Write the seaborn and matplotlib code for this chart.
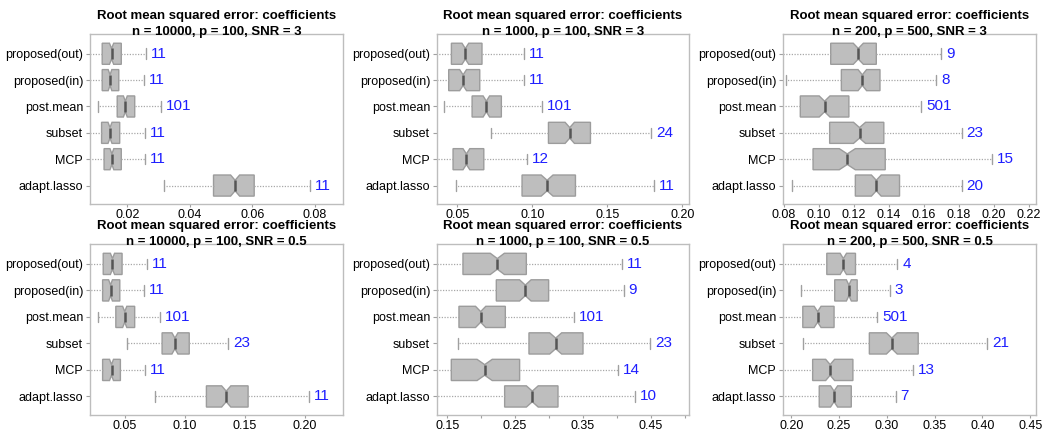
import numpy as np
import pandas as pd
import matplotlib
matplotlib.use("Agg")
import matplotlib.pyplot as plt
import seaborn as sns

# ---------------- data (five-number summaries) ----------------
methods = ["proposed(out)", "proposed(in)", "post.mean", "subset", "MCP", "adapt.lasso"]

# [whisker low, Q1, median, Q3, whisker high] per method
p1_stats = [[0.0070, 0.0120, 0.0150, 0.0181, 0.0259],
            [0.0070, 0.0120, 0.0145, 0.0173, 0.0255],
            [0.0107, 0.0168, 0.0194, 0.0224, 0.0308],
            [0.0070, 0.0118, 0.0145, 0.0176, 0.0256],
            [0.0070, 0.0126, 0.0151, 0.0181, 0.0256],
            [0.0317, 0.0476, 0.0545, 0.0606, 0.0784]]
p1_counts = [11, 11, 101, 11, 11, 11]

p2_stats = [[0.0300, 0.0460, 0.0553, 0.0664, 0.0944],
            [0.0300, 0.0442, 0.0538, 0.0649, 0.0944],
            [0.0411, 0.0598, 0.0693, 0.0793, 0.1064],
            [0.0722, 0.1107, 0.1249, 0.1387, 0.1793],
            [0.0300, 0.0471, 0.0560, 0.0676, 0.0964],
            [0.0489, 0.0931, 0.1098, 0.1287, 0.1809]]
p2_counts = [11, 11, 101, 24, 12, 11]

p3_stats = [[0.0750, 0.1067, 0.1225, 0.1328, 0.1699],
            [0.0810, 0.1128, 0.1248, 0.1349, 0.1670],
            [0.0750, 0.0893, 0.1032, 0.1171, 0.1585],
            [0.0750, 0.1061, 0.1232, 0.1371, 0.1817],
            [0.0750, 0.0966, 0.1162, 0.1379, 0.1990],
            [0.0848, 0.1208, 0.1328, 0.1461, 0.1817]]
p3_counts = [9, 8, 501, 23, 15, 20]

p4_stats = [[0.0180, 0.0321, 0.0398, 0.0478, 0.0684],
            [0.0180, 0.0316, 0.0382, 0.0459, 0.0660],
            [0.0280, 0.0426, 0.0500, 0.0583, 0.0797],
            [0.0522, 0.0811, 0.0918, 0.1037, 0.1362],
            [0.0180, 0.0316, 0.0390, 0.0464, 0.0665],
            [0.0748, 0.1180, 0.1345, 0.1527, 0.2036]]
p4_counts = [11, 11, 101, 23, 11, 11]

p5_stats = [[0.1200, 0.1731, 0.2238, 0.2666, 0.4077],
            [0.1200, 0.2223, 0.2651, 0.2995, 0.4102],
            [0.1200, 0.1672, 0.1992, 0.2356, 0.3369],
            [0.1657, 0.2705, 0.3099, 0.3502, 0.4496],
            [0.1200, 0.1559, 0.2051, 0.2567, 0.4018],
            [0.1200, 0.2346, 0.2754, 0.3133, 0.4264]]
p5_counts = [11, 9, 101, 23, 14, 10]

p6_stats = [[0.1850, 0.2372, 0.2545, 0.2672, 0.3110],
            [0.2103, 0.2455, 0.2603, 0.2690, 0.3034],
            [0.1850, 0.2121, 0.2276, 0.2448, 0.2897],
            [0.2121, 0.2817, 0.3052, 0.3328, 0.4052],
            [0.1850, 0.2224, 0.2407, 0.2645, 0.3276],
            [0.1850, 0.2293, 0.2448, 0.2628, 0.3093]]
p6_counts = [4, 3, 501, 21, 13, 7]

subtitles = ["n = 10000, p = 100, SNR = 3", "n = 1000, p = 100, SNR = 3",
             "n = 200, p = 500, SNR = 3", "n = 10000, p = 100, SNR = 0.5",
             "n = 1000, p = 100, SNR = 0.5", "n = 200, p = 500, SNR = 0.5"]
main_title = "Root mean squared error: coefficients"

xlims = [(0.0081, 0.0890), (0.0364, 0.2044), (0.0794, 0.2242),
         (0.0211, 0.2317), (0.1348, 0.5066), (0.1914, 0.4560)]
xticks = [[0.02, 0.04, 0.06, 0.08],
          [0.05, 0.10, 0.15, 0.20],
          [0.08, 0.10, 0.12, 0.14, 0.16, 0.18, 0.20, 0.22],
          [0.05, 0.10, 0.15, 0.20],
          [0.15, 0.20, 0.25, 0.30, 0.35, 0.40, 0.45, 0.50],
          [0.20, 0.25, 0.30, 0.35, 0.40, 0.45]]
xticklabels = [["0.02", "0.04", "0.06", "0.08"],
               ["0.05", "0.10", "0.15", "0.20"],
               ["0.08", "0.10", "0.12", "0.14", "0.16", "0.18", "0.20", "0.22"],
               ["0.05", "0.10", "0.15", "0.20"],
               ["0.15", "", "0.25", "", "0.35", "", "0.45", ""],
               ["0.20", "0.25", "0.30", "0.35", "0.40", "0.45"]]

panels_stats = [p1_stats, p2_stats, p3_stats, p4_stats, p5_stats, p6_stats]
panels_counts = [p1_counts, p2_counts, p3_counts, p4_counts, p5_counts, p6_counts]

N_SIM_WEIGHT = 40  # each summary value weighted equally (n = 200 replications)


def long_table(stats):
    rows = []
    for m, s in zip(methods, stats):
        for v in s:
            rows.extend([(m, v)] * N_SIM_WEIGHT)
    return pd.DataFrame(rows, columns=["method", "rmse"])


# ---------------- figure ----------------
sns.set_style("white")
plt.rcParams["font.family"] = ["Liberation Sans", "DejaVu Sans"]
plt.rcParams["text.color"] = "black"
plt.rcParams["xtick.labelcolor"] = "black"
plt.rcParams["ytick.labelcolor"] = "black"

W, H = 1050, 436
fig = plt.figure(figsize=(W / 100, H / 100), dpi=100)

col_px = [(90, 343), (437, 689), (783, 1036)]
row_px = [(34, 204), (244, 415)]

for k in range(6):
    r, c = divmod(k, 3)
    x0, x1 = col_px[c]
    y0, y1 = row_px[r]
    ax = fig.add_axes([x0 / W, 1 - y1 / H, (x1 - x0) / W, (y1 - y0) / H])
    df = long_table(panels_stats[k])
    sns.boxplot(data=df, x="rmse", y="method", order=methods, orient="y",
                whis=(0, 100), notch=True, width=0.8, saturation=1,
                color="#BEBEBE", linecolor="#9C9C9C", linewidth=1.0,
                medianprops=dict(color="#555555", linewidth=1.8),
                whiskerprops=dict(color="#A8A8A8", linewidth=0.9, linestyle=(0, (1, 1.2))),
                capprops=dict(color="#A0A0A0", linewidth=1.0),
                ax=ax)
    for i, (s, n) in enumerate(zip(panels_stats[k], panels_counts[k])):
        ax.annotate(str(n), xy=(s[4], i), xytext=(3.5, 0), textcoords="offset points",
                    va="center", ha="left", color="#1E1EFF", fontsize=11)
    ax.set_xlim(*xlims[k])
    ax.set_ylim(5.7, -0.75)
    ax.set_xticks(xticks[k])
    ax.set_xticklabels(xticklabels[k])
    ax.set_xlabel("")
    ax.set_ylabel("")
    for sp in ax.spines.values():
        sp.set_visible(True)
        sp.set_color("#BDBDBD")
        sp.set_linewidth(1.0)
    ax.tick_params(axis="y", length=3, color="#A0A0A0", labelcolor="black",
                   labelsize=9, pad=2, left=True)
    ax.tick_params(axis="x", length=2, color="#A0A0A0", labelcolor="black",
                   labelsize=9, pad=1.5, bottom=True)
    ax.set_title(main_title + "\n" + subtitles[k], fontweight="bold", fontsize=9.5,
                 color="black", pad=-1.0, linespacing=1.45)

fig.savefig("out.png", dpi=100)
